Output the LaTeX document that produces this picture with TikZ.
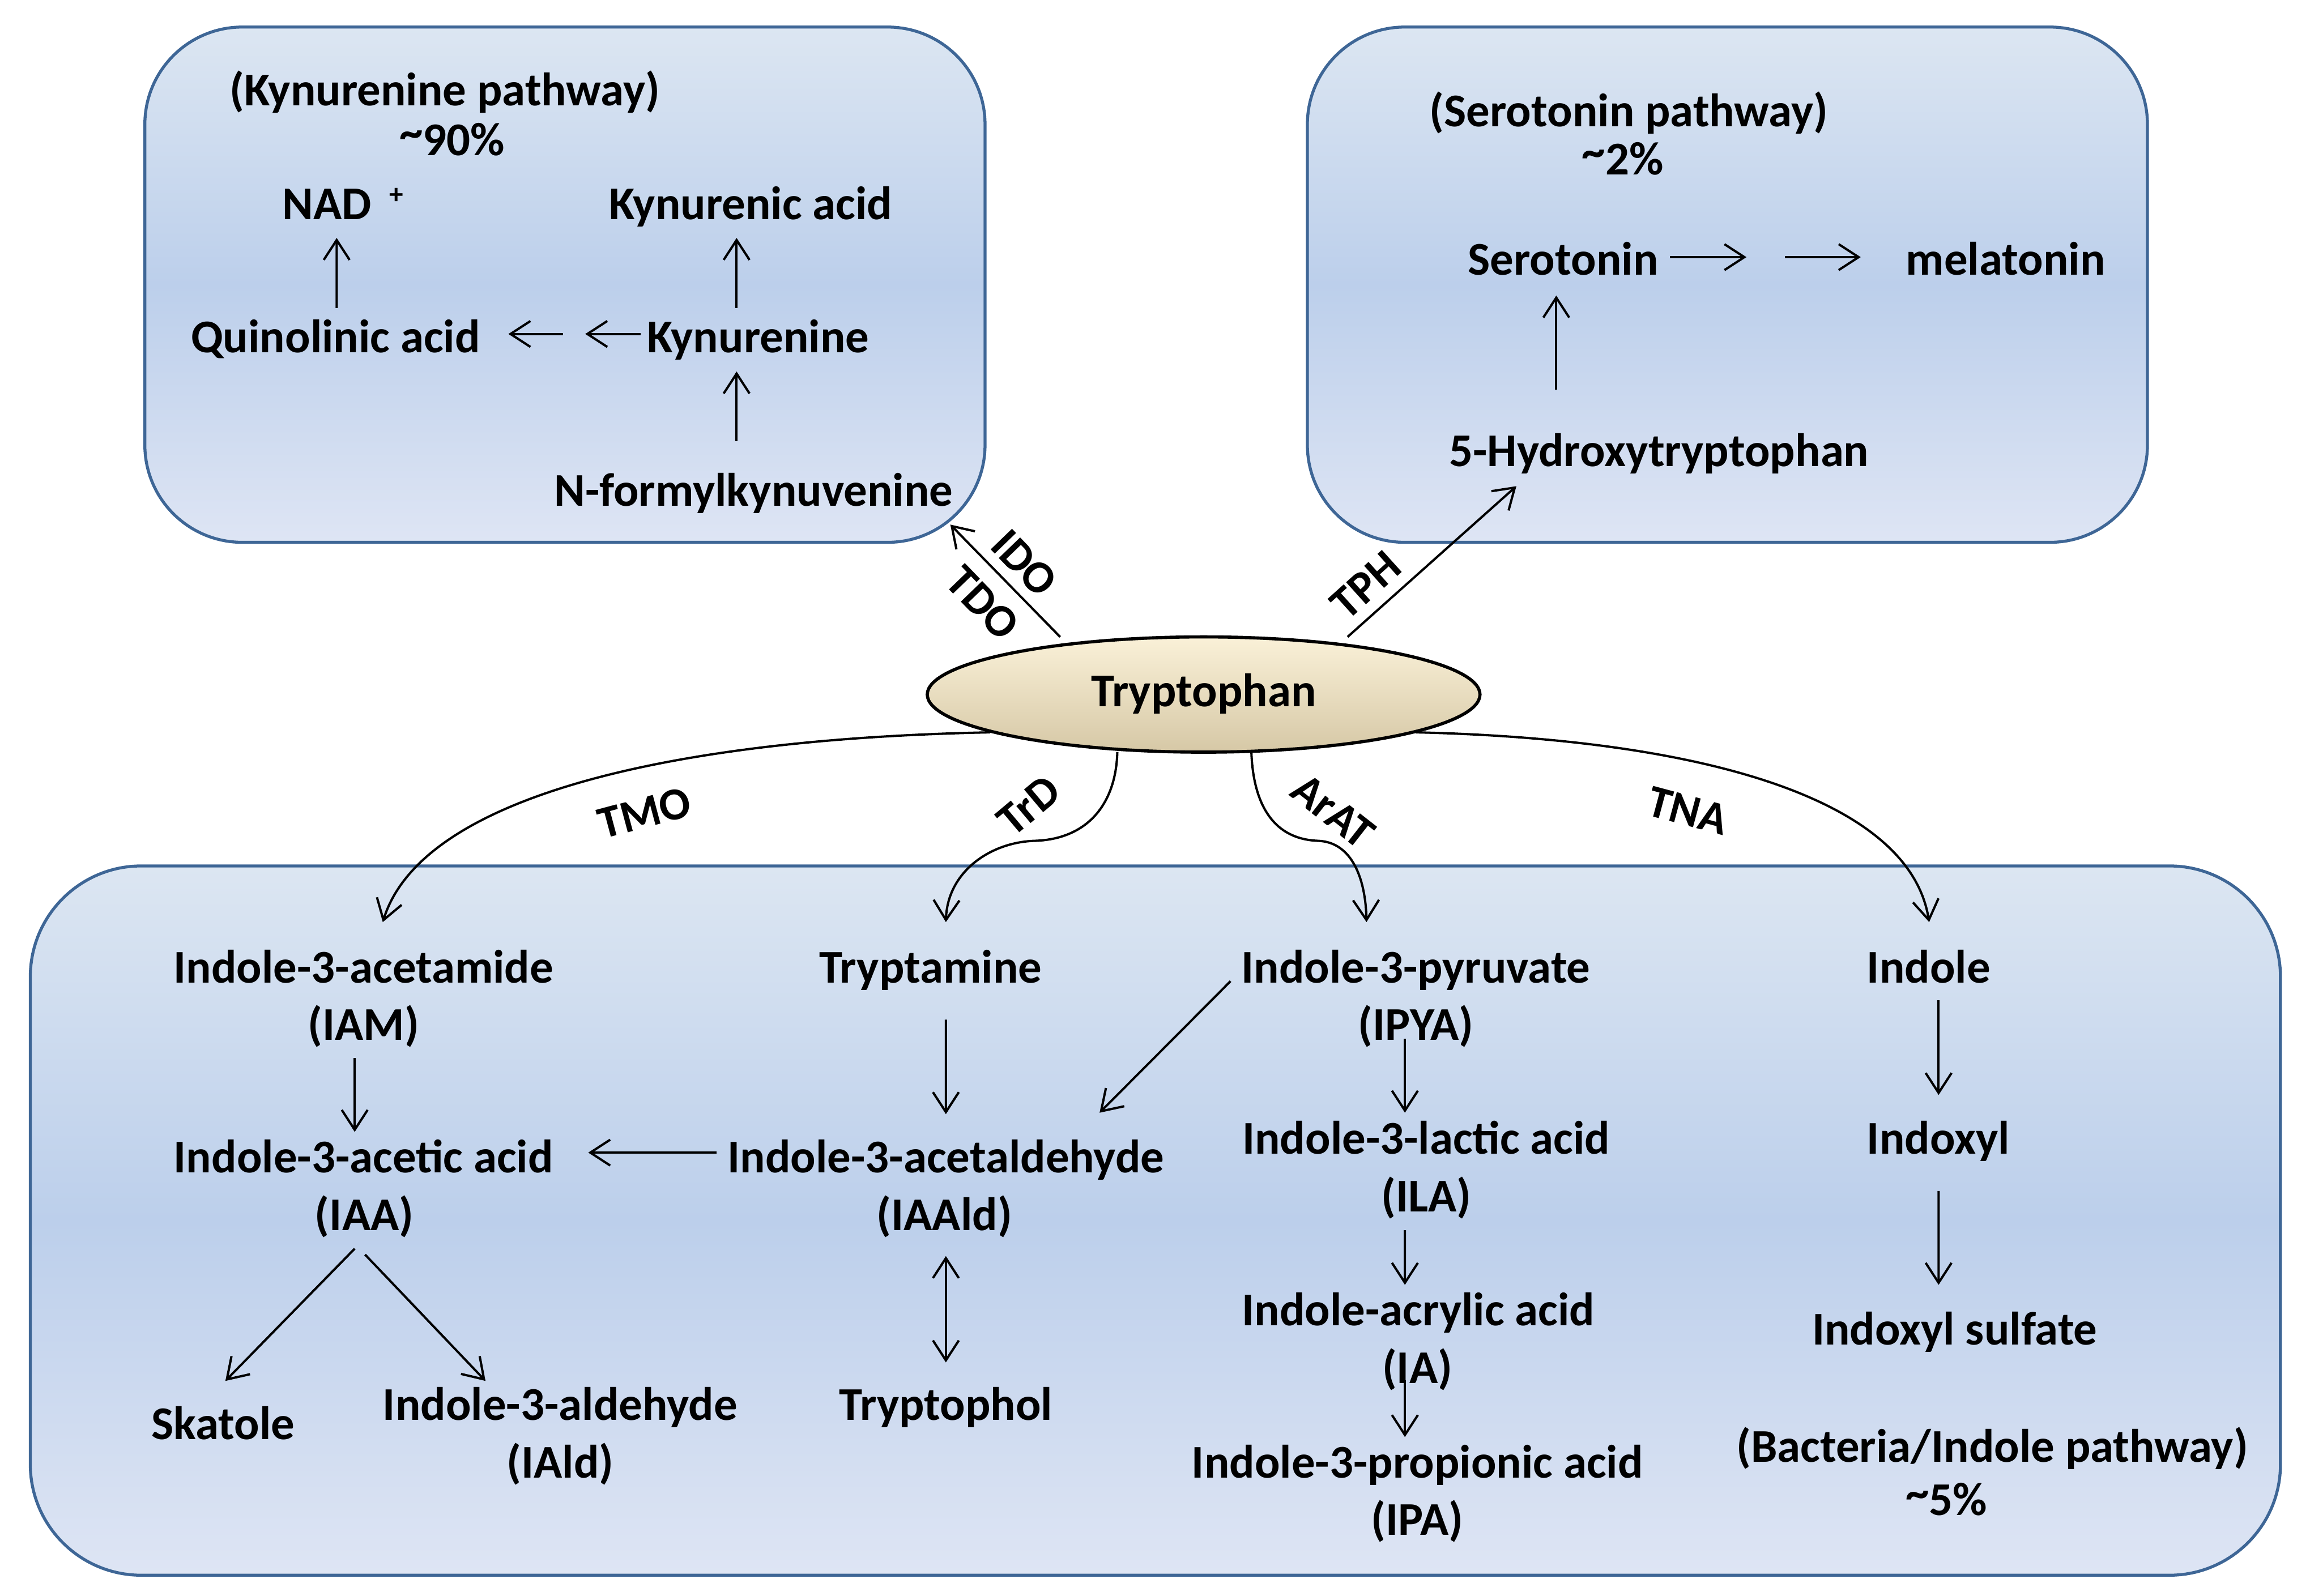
\documentclass[tikz,border=0pt]{standalone}
\usepackage{fontspec}
\setmainfont{Carlito}
\usetikzlibrary{arrows.meta,calc,shapes.geometric}
\definecolor{boxline}{RGB}{62,102,150}
\definecolor{boxtop}{RGB}{220,230,242}
\definecolor{boxmid}{RGB}{188,207,235}
\definecolor{boxbot}{RGB}{222,229,244}
\definecolor{elltop}{RGB}{250,241,216}
\definecolor{ellbot}{RGB}{214,200,166}
\newcommand{\tld}{\raisebox{3.5pt}{\textasciitilde}}
\begin{document}
\begin{tikzpicture}[x=0.02609cm,y=-0.02609cm,
  txt/.style={font=\fontsize{23.6}{28.3}\selectfont\bfseries, inner sep=0pt, text height=17pt, text depth=5pt},
  lbl/.style={font=\fontsize{23}{27}\selectfont\bfseries, inner sep=0pt},
  arr/.style={line width=1.15pt, -{Straight Barb[length=10pt,width=13pt]}},
  darr/.style={line width=1.15pt, {Straight Barb[length=10pt,width=13pt]}-{Straight Barb[length=10pt,width=13pt]}},
  panel/.style={draw=boxline, line width=1.5pt, top color=boxtop, bottom color=boxbot, middle color=boxmid}]
\useasboundingbox (0,0) rectangle (1563,1079.7);

% panels
\path[panel, rounded corners=1.72cm] (98,18.3) rectangle (666.5,367);
\path[panel, rounded corners=1.72cm] (884.6,18.3) rectangle (1453,367);
\path[panel, rounded corners=1.96cm] (20.5,586) rectangle (1543,1066);

% kynurenine pathway
\node[txt] (kp) at (301,63.4) {(Kynurenine pathway)};
\node[txt] (p90) at (306,97) {\tld 90\%};
\node[txt] (nad) at (232,140.4) {NAD\hspace{9pt}\raisebox{8pt}{\fontsize{14}{14}\selectfont +}};
\node[txt] (kyna) at (508,140.4) {Kynurenic acid};
\node[txt] (qa) at (227,230.4) {Quinolinic acid};
\node[txt] (kyn) at (513,230.4) {Kynurenine};
\node[txt] (nfk) at (510,334.4) {N-formylkynuvenine};

% serotonin pathway
\node[txt] (sp) at (1102,77.4) {(Serotonin pathway)};
\node[txt] (p2) at (1098,110) {\tld 2\%};
\node[txt] (ser) at (1057.6,177.9) {Serotonin};
\node[txt] (mel) at (1357,177.9) {melatonin};
\node[txt] (hyd) at (1122.5,307.4) {5-Hydroxytryptophan};

% bottom
\node[txt] (iam1) at (246,656.9) {Indole-3-acetamide};
\node[txt] (iam2) at (246,695.9) {(IAM)};
\node[txt] (tra) at (629.6,656.9) {Tryptamine};
\node[txt] (ipy1) at (958,656.9) {Indole-3-pyruvate};
\node[txt] (ipy2) at (958,695.9) {(IPYA)};
\node[txt] (ind) at (1305,656.9) {Indole};
\node[txt] (iaa1) at (246,785.4) {Indole-3-acetic acid};
\node[txt] (iaa2) at (246.5,824.4) {(IAA)};
\node[txt] (iaal1) at (640,785.4) {Indole-3-acetaldehyde};
\node[txt] (iaal2) at (639,824.4) {(IAAld)};
\node[txt] (ila1) at (965,772.9) {Indole-3-lactic acid};
\node[txt] (ila2) at (965,811.9) {(ILA)};
\node[txt] (inx) at (1311.5,772.9) {Indoxyl};
\node[txt] (ia1) at (959.6,888.9) {Indole-acrylic acid};
\node[txt] (ia2) at (959,927.9) {(IA)};
\node[txt] (ins) at (1322.6,901.9) {Indoxyl sulfate};
\node[txt] (ska) at (151,965.9) {Skatole};
\node[txt] (iald1) at (379,952.9) {Indole-3-aldehyde};
\node[txt] (iald2) at (379,991.9) {(IAld)};
\node[txt] (trol) at (640,952.9) {Tryptophol};
\node[txt] (ipa1) at (959,991.9) {Indole-3-propionic acid};
\node[txt] (ipa2) at (959,1030.9) {(IPA)};
\node[txt] (bac1) at (1348,981.4) {(Bacteria/Indole pathway)};
\node[txt] (bac2) at (1317,1017.4) {\tld 5\%};

% arrows: kynurenine box
\draw[arr] ($(qa.center)+(0.8,-22)$) -- ($(nad.center)+(-4.2,20.6)$);
\draw[arr] ($(kyn.center)+(-14.6,-22)$) -- ($(kyna.center)+(-9.6,20.6)$);
\draw[arr] ($(nfk.center)+(-11.6,-35.9)$) -- ($(kyn.center)+(-14.6,21)$);
\draw[arr] ($(kyn.center)+(-79.4,-4.4)$) -- ($(kyn.center)+(-117,-4.4)$);
\draw[arr] ($(qa.center)+(154,-4.4)$) -- ($(qa.center)+(117,-4.4)$);

% arrows: serotonin box
\draw[arr] ($(ser.center)+(72.4,-3.9)$) -- ($(ser.center)+(124.1,-3.9)$);
\draw[arr] ($(mel.center)+(-149.3,-3.9)$) -- ($(mel.center)+(-98,-3.9)$);
\draw[arr] ($(hyd.center)+(-69.5,-43.9)$) -- ($(ser.center)+(-4.6,22.1)$);

% arrows: bottom box
\draw[arr] ($(iam2.center)+(-6,20.1)$) -- ($(iaa1.center)+(-6,-19.4)$);
\draw[arr] ($(iaal1.center)+(-155,-5.4)$) -- ($(iaa1.center)+(152,-5.4)$);
\draw[arr] ($(tra.center)+(10.4,33.1)$) -- ($(iaal1.center)+(0,-31.4)$);
\draw[arr] ($(ipy1.center)+(-125.4,7.1)$) -- ($(iaal1.center)+(104,-32.4)$);
\draw[darr] ($(iaal2.center)+(1,25.6)$) -- ($(trol.center)+(0,-30.9)$);
\draw[arr] ($(iaa2.center)+(-6.5,20.6)$) -- ($(ska.center)+(1.5,-31.4)$);
\draw[arr] ($(iaa2.center)+(0.5,24.6)$) -- ($(iald1.center)+(-50.5,-18.4)$);
\draw[arr] ($(ipy2.center)+(-7.4,7.1)$) -- ($(ila1.center)+(-14.4,-19.9)$);
\draw[arr] ($(ila2.center)+(-14.4,20.6)$) -- ($(ia1.center)+(-9,-19.4)$);
\draw[arr] ($(ia2.center)+(-8.4,6.1)$) -- ($(ipa1.center)+(-8.4,-19.4)$);
\draw[arr] ($(ind.center)+(6.7,20.1)$) -- ($(inx.center)+(0.2,-31.9)$);
\draw[arr] ($(inx.center)+(0.2,33.1)$) -- ($(ins.center)+(-10.9,-32.4)$);

% tryptophan
\node[ellipse, draw, line width=1.6pt, top color=elltop, bottom color=ellbot,
  minimum width=9.758cm, minimum height=2.035cm, inner sep=0pt,
  font=\fontsize{23.6}{28.3}\selectfont\bfseries, text height=17pt, text depth=5pt] (tryp) at (814.4,470) {Tryptophan};

% enzyme connectors
\draw[arr] ($(tryp.center)+(-97.1,-39)$) -- ($(nfk.center)+(133,20.6)$);
\draw[arr] ($(tryp.center)+(97.4,-39)$) -- ($(hyd.center)+(-96.5,21.6)$);
\draw[arr] ($(tryp.center)+(-144.4,25.6)$) .. controls (450,500) and (285,540) .. ($(iam1.center)+(13,-32.9)$);
\draw[arr] ($(tryp.center)+(143.6,25.6)$) .. controls (1150,500) and (1292,540) .. ($(ind.center)+(0.3,-32.9)$);
\draw[arr] ($(tryp.center)+(-58.4,39)$) .. controls (755,545) and (735,568) .. (700,569) .. controls (670,570) and (641,590) .. ($(tra.center)+(10.4,-32.9)$);
\draw[arr] ($(tryp.center)+(32.3,39)$) .. controls (848,545) and (862,568) .. (892,569) .. controls (915,570) and (924,595) .. ($(ipy1.center)+(-33.4,-32.9)$);

% enzyme labels
\node[lbl, rotate=-46] (ido) at (693,381) {IDO};
\node[lbl, rotate=-46] (tdo) at (665,408) {TDO};
\node[lbl, rotate=42] (tph) at (924,396) {TPH};
\node[lbl, rotate=40] (trd) at (696,545) {TrD};
\node[lbl, rotate=-38] (arat) at (902,549) {ArAT};
\node[lbl, rotate=15] (tmo) at (436,550) {TMO};
\node[lbl, rotate=-15] (tna) at (1142,548.5) {TNA};
\end{tikzpicture}
\end{document}
